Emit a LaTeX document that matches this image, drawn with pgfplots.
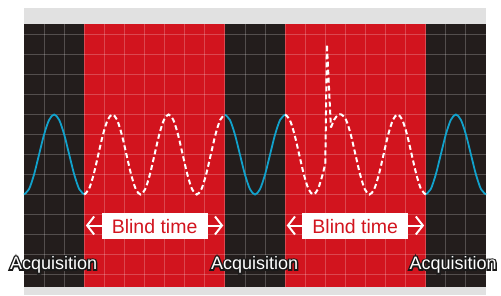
\documentclass[border=0pt]{standalone}
\usepackage{fontspec}
\setmainfont{Liberation Sans}
\newfontfamily\outlinefont[FakeBold=16]{Liberation Sans}
\usepackage{pgfplots}
\pgfplotsset{compat=1.18}
\usetikzlibrary{arrows.meta}
\definecolor{bgblack}{HTML}{231D1C}
\definecolor{bgred}{HTML}{D2141E}
\definecolor{framegray}{HTML}{E1E1E1}
\definecolor{wave}{HTML}{11A2CC}
\newcommand{\acqlabel}[1]{%
  \node[anchor=base, text=black!90, font=\outlinefont\fontsize{18}{20}\selectfont] at (axis cs:#1,0.25) {Acquisition};
  \node[anchor=base, text=white, font=\fontsize{18}{20}\selectfont] at (axis cs:#1,0.25) {Acquisition};}
\begin{document}
\begin{tikzpicture}
\begin{axis}[
  set layers,
  scale only axis, width=462pt, height=263pt,
  xmin=0, xmax=23, ymin=-0.625, ymax=12.525,
  xtick={1,...,22}, ytick={0,...,12},
  xticklabels={}, yticklabels={},
  major tick length=0pt,
  grid=major, grid style={white, opacity=0.22, line width=0.9pt},
  axis line style={draw=none},
  clip=false,
]
% frame and regions
\addplot[on layer=axis background, fill=framegray, draw=none] coordinates {(0,-1.025) (23,-1.025) (23,13.325) (0,13.325)} -- cycle;
\addplot[on layer=axis background, fill=bgblack, draw=none] coordinates {(0,-0.625) (23,-0.625) (23,12.525) (0,12.525)} -- cycle;
\addplot[on layer=axis background, fill=bgred, draw=none] coordinates {(3,-0.625) (10,-0.625) (10,12.525) (3,12.525)} -- cycle;
\addplot[on layer=axis background, fill=bgred, draw=none] coordinates {(13,-0.625) (20,-0.625) (20,12.525) (13,12.525)} -- cycle;

% acquisition waves
\addplot[wave, line width=1.8pt, smooth] coordinates {
(0,4) (0.25,4.268) (0.5,5) (0.75,6) (1,7) (1.25,7.732) (1.5,8) (1.75,7.732) (2,7) (2.25,6) (2.5,5) (2.75,4.268) (3,4)};
\addplot[wave, line width=1.8pt, smooth] coordinates {
(10,8) (10.25,7.732) (10.5,7) (10.75,6) (11,5) (11.25,4.268) (11.5,4) (11.75,4.268) (12,5) (12.25,6) (12.5,7) (12.75,7.732) (13,8)};
\addplot[wave, line width=1.8pt, smooth] coordinates {
(20,4) (20.25,4.268) (20.5,5) (20.75,6) (21,7) (21.25,7.732) (21.5,8) (21.75,7.732) (22,7) (22.25,6) (22.5,5) (22.75,4.268) (23,4)};

% blind-time waves
\addplot[white, line width=2pt, dash pattern=on 5pt off 3pt, smooth] coordinates {
(3,4) (3.2333,4.268) (3.4667,5) (3.7,6) (3.9333,7) (4.1667,7.732) (4.4,8) (4.6333,7.732) (4.8667,7) (5.1,6)
(5.3333,5) (5.5667,4.268) (5.8,4) (6.0333,4.268) (6.2667,5) (6.5,6) (6.7333,7) (6.9667,7.732) (7.2,8) (7.4333,7.732)
(7.6667,7) (7.9,6) (8.1333,5) (8.3667,4.268) (8.6,4) (8.8333,4.268) (9.0667,5) (9.3,6) (9.5333,7) (9.7667,7.732) (10,8)};
\addplot[white, line width=2pt, dash pattern=on 5pt off 3pt, smooth] coordinates {
(13,8) (13.2333,7.732) (13.4667,7) (13.7,6) (13.9333,5) (14.1667,4.268) (14.4,4) (14.6333,4.268) (14.8667,5) (15.0,5.56)};
\addplot[white, line width=2pt, dash pattern=on 5pt off 3pt] coordinates {
(15.0,5.56) (15.08,11.5) (15.28,7.35)};
\addplot[white, line width=2pt, dash pattern=on 5pt off 3pt, smooth] coordinates {
(15.28,7.35) (15.45,7.75) (15.62,7.96) (15.8,8) (16.0333,7.732) (16.2667,7) (16.5,6) (16.7333,5) (16.9667,4.268) (17.2,4)
(17.4333,4.268) (17.6667,5) (17.9,6) (18.1333,7) (18.3667,7.732) (18.6,8) (18.8333,7.732) (19.0667,7) (19.3,6) (19.5333,5)
(19.7667,4.268) (20,4)};

% blind time labels
\draw[white, line width=2pt, {Straight Barb[length=7pt,width=18pt]}-{Straight Barb[length=7pt,width=18pt]}] (axis cs:3.08,2.45) -- (axis cs:9.92,2.45);
\fill[white] (axis cs:3.87,1.80) rectangle (axis cs:9.14,3.10);
\node[anchor=base, text=bgred, font=\fontsize{19.5}{21}\selectfont] at (axis cs:6.5,2.05) {Blind time};
\draw[white, line width=2pt, {Straight Barb[length=7pt,width=18pt]}-{Straight Barb[length=7pt,width=18pt]}] (axis cs:13.08,2.45) -- (axis cs:19.92,2.45);
\fill[white] (axis cs:13.86,1.80) rectangle (axis cs:19.12,3.10);
\node[anchor=base, text=bgred, font=\fontsize{19.5}{21}\selectfont] at (axis cs:16.49,2.05) {Blind time};

% acquisition labels
\acqlabel{1.47}
\acqlabel{11.48}
\acqlabel{21.36}

\coordinate (bbA) at (axis cs:-1.195,-1.025);
\coordinate (bbB) at (axis cs:23.747,13.725);
\end{axis}
\pgfresetboundingbox
\useasboundingbox (bbA) rectangle (bbB);
\end{tikzpicture}
\end{document}
